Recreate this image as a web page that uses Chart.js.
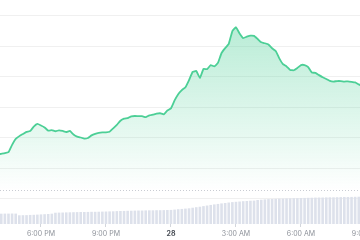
<!DOCTYPE html>
<html>
<head>
<meta charset="utf-8">
<script src="https://cdn.jsdelivr.net/npm/chart.js@4.4.1/dist/chart.umd.min.js"></script>
<style>
  html, body { margin: 0; padding: 0; background: #fff; overflow: hidden; }
  #wrap { width: 360px; height: 240px; overflow: hidden; }
</style>
</head>
<body>
<div id="wrap"><canvas id="priceChart" width="400" height="240"></canvas></div>
<script>
// sample times, minutes from midnight of the 27th (10 min apart)
const times = [
  960, 970, 980, 990, 1000, 1010, 1020, 1030, 1040, 1050,
  1060, 1070, 1080, 1090, 1100, 1110, 1120, 1130, 1140, 1150,
  1160, 1170, 1180, 1190, 1200, 1210, 1220, 1230, 1240, 1250,
  1260, 1270, 1280, 1290, 1300, 1310, 1320, 1330, 1340, 1350,
  1360, 1370, 1380, 1390, 1400, 1410, 1420, 1430, 1440, 1450,
  1460, 1470, 1480, 1490, 1500, 1510, 1520, 1530, 1540, 1550,
  1560, 1570, 1580, 1590, 1600, 1610, 1620, 1630, 1640, 1650,
  1660, 1670, 1680, 1690, 1700, 1710, 1720, 1730, 1740, 1750,
  1760, 1770, 1780, 1790, 1800, 1810, 1820, 1830, 1840, 1850,
  1860, 1870, 1880, 1890, 1900, 1910, 1920, 1930, 1940, 1950,
  1960, 1970
];

// price (USD)
const prices = [
  2.4089, 2.4093, 2.4097, 2.4104, 2.4152, 2.4191, 2.4209, 2.4223, 2.4237, 2.4242,
  2.4272, 2.4289, 2.4279, 2.4266, 2.4245, 2.4249, 2.4241, 2.4247, 2.4243, 2.4236,
  2.4243, 2.4220, 2.4206, 2.4200, 2.4193, 2.4197, 2.4214, 2.4224, 2.4230, 2.4233,
  2.4234, 2.4238, 2.4260, 2.4283, 2.4310, 2.4324, 2.4327, 2.4339, 2.4341, 2.4340,
  2.4340, 2.4333, 2.4345, 2.4350, 2.4356, 2.4359, 2.4352, 2.4377, 2.4391, 2.4443,
  2.4484, 2.4511, 2.4529, 2.4576, 2.4630, 2.4636, 2.4590, 2.4650, 2.4648, 2.4675,
  2.4666, 2.4689, 2.4754, 2.4786, 2.4814, 2.4898, 2.4923, 2.4882, 2.4852, 2.4861,
  2.4868, 2.4866, 2.4846, 2.4824, 2.4818, 2.4810, 2.4785, 2.4767, 2.4719, 2.4681,
  2.4666, 2.4643, 2.4641, 2.4656, 2.4675, 2.4675, 2.4662, 2.4626, 2.4624, 2.4609,
  2.4595, 2.4584, 2.4571, 2.4567, 2.4570, 2.4570, 2.4567, 2.4568, 2.4565, 2.4561,
  2.4548, 2.4538
];

// volume (M USD)
const volumes = [
  2.58, 2.58, 2.60, 2.60, 2.62, 2.60, 2.18, 2.20, 2.22, 2.27,
  2.30, 2.35, 2.40, 2.45, 2.50, 2.58, 2.82, 2.85, 2.87, 2.90,
  2.92, 2.95, 2.97, 3.00, 3.00, 3.02, 3.05, 3.05, 3.07, 3.10,
  3.12, 3.15, 3.17, 3.22, 3.25, 3.27, 3.30, 3.32, 3.35, 3.37,
  3.37, 3.40, 3.42, 3.42, 3.45, 3.45, 3.47, 3.50, 3.52, 3.60,
  3.70, 3.77, 3.85, 3.92, 4.07, 4.20, 4.32, 4.47, 4.62, 4.77,
  4.90, 5.02, 5.15, 5.25, 5.37, 5.47, 5.55, 5.62, 5.70, 5.75,
  5.82, 5.85, 6.00, 6.07, 6.15, 6.22, 6.27, 6.30, 6.35, 6.37,
  6.40, 6.42, 6.45, 6.47, 6.50, 6.52, 6.55, 6.57, 6.60, 6.62,
  6.62, 6.65, 6.67, 6.67, 6.70, 6.72, 6.75, 6.75, 6.77, 6.80,
  6.82, 6.82
];

// x axis ticks
const tickTimes = [1080, 1260, 1440, 1620, 1800, 1980];
const tickLabels = ["6:00 PM", "9:00 PM", "28", "3:00 AM", "6:00 AM", "9:00 AM"];

const LINE = "#4ccf96";

function fillGradient(context) {
  const area = context.chart.chartArea;
  if (!area) return "rgba(76,207,150,0.2)";
  const g = context.chart.ctx.createLinearGradient(0, area.top, 0, area.top + 190);
  g.addColorStop(0, "rgba(76,207,150,0.45)");
  g.addColorStop(0.7, "rgba(76,207,150,0.14)");
  g.addColorStop(1, "rgba(76,207,150,0)");
  return g;
}

const isDay = (c) => c.tick && c.tick.value === 1440;

new Chart(document.getElementById("priceChart"), {
  type: "bar",
  data: {
    datasets: [
      {
        type: "line",
        label: "Price",
        data: times.map((t, i) => ({ x: t, y: prices[i] })),
        yAxisID: "y",
        borderColor: LINE,
        borderWidth: 1.8,
        pointRadius: 0,
        tension: 0.1,
        fill: "start",
        backgroundColor: fillGradient,
      },
      {
        type: "bar",
        label: "Volume",
        data: times.map((t, i) => ({ x: t, y: volumes[i] })),
        yAxisID: "y1",
        backgroundColor: "#dde1eb",
        barPercentage: 0.72,
        categoryPercentage: 1,
      },
    ],
  },
  options: {
    responsive: false,
    animation: false,
    layout: {
      padding: { left: 0, top: 0, right: 0, bottom: 1.6 },
    },
    plugins: {
      legend: { display: false },
      tooltip: { enabled: false },
    },
    scales: {
      x: {
        type: "linear",
        min: 966.5,
        max: 2074.2,
        offset: false,
        grid: {
          drawOnChartArea: false,
          drawTicks: true,
          tickLength: 3,
          tickColor: "#d3d6dc",
          offset: false,
        },
        border: { display: false },
        afterBuildTicks: (axis) => {
          axis.ticks = tickTimes.map((v) => ({ value: v }));
        },
        afterFit: (axis) => {
          axis.height = 14.4;
        },
        ticks: {
          autoSkip: false,
          maxRotation: 0,
          padding: 3,
          font: (c) => ({ family: "Inter", size: 7, weight: isDay(c) ? "bold" : "normal" }),
          color: (c) => (isDay(c) ? "#4b5058" : "#8d9199"),
          callback: (v) => tickLabels[tickTimes.indexOf(v)],
        },
      },
      y: {
        position: "left",
        min: 2.363279,
        max: 2.510164,
        afterBuildTicks: (axis) => {
          axis.ticks = [2.38, 2.40, 2.42, 2.44, 2.46, 2.48, 2.50].map((v) => ({ value: v }));
        },
        ticks: { display: false },
        grid: { drawTicks: false, color: "rgba(0,0,0,0.06)" },
        border: { display: false },
      },
      y1: {
        position: "right",
        min: 0,
        max: 56,
        afterBuildTicks: (axis) => {
          axis.ticks = [{ value: 8.5 }];
        },
        ticks: { display: false },
        grid: { drawTicks: false, color: "#c9ccd3" },
        border: { display: false, dash: [1, 2] },
      },
    },
  },
});
</script>
</body>
</html>
